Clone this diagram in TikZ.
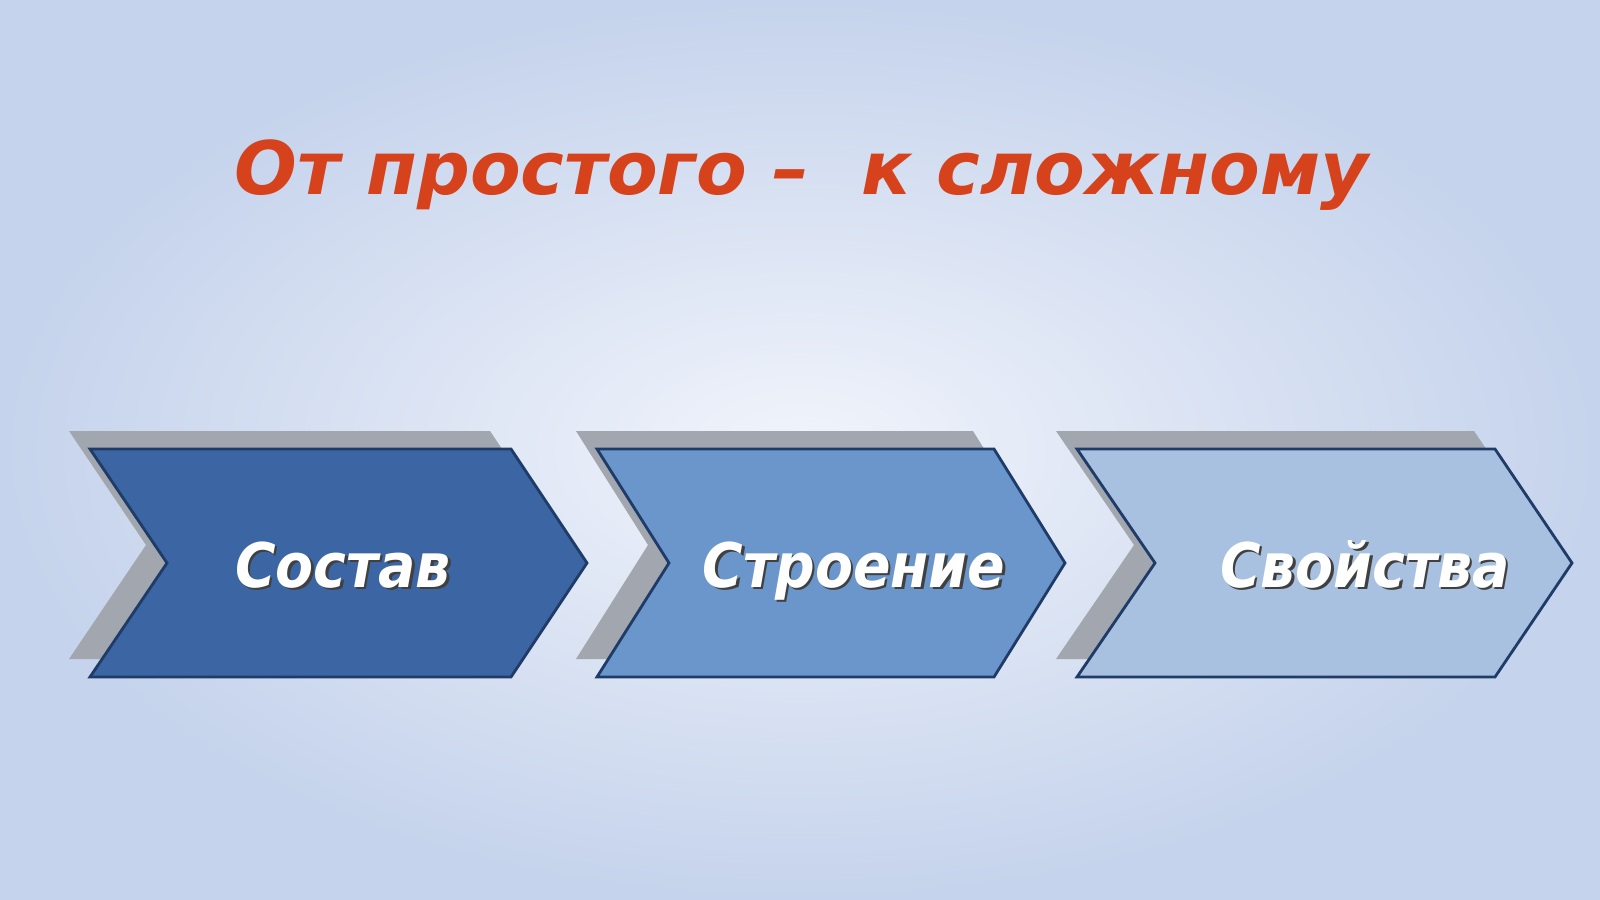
\documentclass[tikz,border=0pt]{standalone}
\usepackage{fontspec}
\setmainfont{DejaVu Sans}
\newfontfamily\skrift{DejaVu Sans Condensed Bold Oblique}
\newfontfamily\tittelskrift{DejaVu Sans Bold Oblique}
\usepackage{tikz}

\definecolor{bakgrunnut}{HTML}{C5D3EC}
\definecolor{bakgrunninn}{HTML}{F1F4FB}
\definecolor{tittelrod}{HTML}{D5421C}
\definecolor{kant}{HTML}{1F3C68}
\definecolor{skyggegra}{HTML}{A2A6AE}
\definecolor{blaa1}{HTML}{3B66A3}
\definecolor{blaa2}{HTML}{6A96CC}
\definecolor{blaa3}{HTML}{A9C1E1}

\begin{document}
\begin{tikzpicture}[x=0.1mm, y=-0.1mm,
	pil/.style={draw=kant, line width=0.8pt, line join=miter},
	skygge/.style={fill=skyggegra, shift={(-21,-18)}},
	tittel/.style={anchor=base, text=tittelrod, font=\tittelskrift\fontsize{21}{25}\selectfont},
	merke/.style={anchor=base, text=white, font=\skrift\fontsize{17.5}{21}\selectfont},
	merkeskygge/.style={merke, text=black!75, shift={(2.5,2.5)}}]

%%%%------------Bakgrunn----------------%%
\useasboundingbox (0,0) rectangle (1600,900)						;
\shade [inner color=bakgrunninn, outer color=bakgrunnut] (0,0) rectangle (1600,900)	;

%%%%------------Tittel----------------%%
\node [tittel] (tittel) at (802,195) {От простого –\ \ к сложному}	;

%%%%------------Skygger----------------%%
\fill [skygge] (90,449) -- (511,449) -- (587,563) -- (511,677) -- (90,677) -- (167,563) -- cycle		;
\fill [skygge] (597,449) -- (994,449) -- (1065,563) -- (994,677) -- (597,677) -- (669,563) -- cycle		;
\fill [skygge] (1077,449) -- (1495,449) -- (1572,563) -- (1495,677) -- (1077,677) -- (1155,563) -- cycle	;

%%%%------------Piler----------------%%
\draw [pil, fill=blaa1] (90,449) -- (511,449) -- (587,563) -- (511,677) -- (90,677) -- (167,563) -- cycle		;
\draw [pil, fill=blaa2] (597,449) -- (994,449) -- (1065,563) -- (994,677) -- (597,677) -- (669,563) -- cycle		;
\draw [pil, fill=blaa3] (1077,449) -- (1495,449) -- (1572,563) -- (1495,677) -- (1077,677) -- (1155,563) -- cycle	;

%%%-------------Tekst-------------%%%
\node [merkeskygge] (sostavS) at (343,587) {Состав}					;
\node [merke] (sostav) at (343,587) {Состав}							;
\node [merkeskygge] (stroenieS) at (854,587) {Строение}				;
\node [merke] (stroenie) at (854,587) {Строение}						;
\node [merkeskygge] (svojstvaS) at (1365,587) {Свойства}				;
\node [merke] (svojstva) at (1365,587) {Свойства}						;

%%%---------- Hjelpe linjer ------------%%%
%    \draw [help lines, step=100] (0,0) grid (1600,900);
\end{tikzpicture}
\end{document}
